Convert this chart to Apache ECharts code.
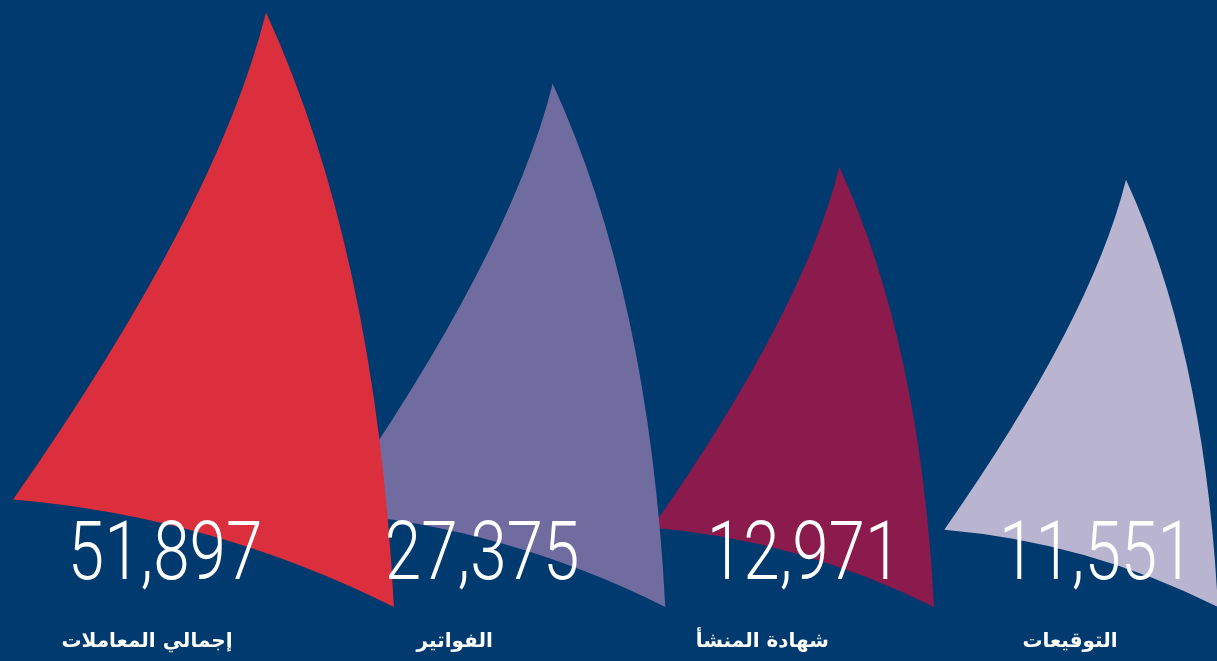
<!DOCTYPE html>
<html><head><meta charset="utf-8">
<script src="https://cdn.jsdelivr.net/npm/echarts@6/dist/echarts.min.js"></script>
<style>html,body{margin:0;padding:0;background:#003a6e}#c{width:1217px;height:661px}</style>
</head><body><div id="c"></div>
<script>
// ---- data ----
const categories = ['إجمالي المعاملات', 'الفواتير', 'شهادة المنشأ', 'التوقيعات'];
const values = [51897, 27375, 12971, 11551];
const sailColors = ['#db2f3d', '#706ca0', '#8b1a4d', '#b9b5d1'];
const seaLevel = 250;     // log-axis floor (base of sails)
const skyTop = 58000;     // log-axis ceiling

// ---- layout / style ----
const LEFT_CORNER = [-0.4254, 0.8191];
const numberOffset = 152;   // px right of the sail's left corner
const numberBaseline = 581;
const numberScaleX = 0.8;

function sailPath(tx, ty, H) {
  const p = (nx, ny) => (tx + nx * H).toFixed(2) + ' ' + (ty + ny * H).toFixed(2);
  return 'M ' + p(0, 0) +
    ' Q ' + p(0.184, 0.400) + ' ' + p(0.2152, 1) +
    ' Q ' + p(-0.0893, 0.8477) + ' ' + p(LEFT_CORNER[0], LEFT_CORNER[1]) +
    ' Q ' + p(-0.0822, 0.3287) + ' ' + p(0, 0) + ' Z';
}

const chart = echarts.init(document.getElementById('c'), null, { renderer: 'canvas' });
chart.setOption({
  animation: false,
  backgroundColor: '#003a6e',
  grid: [
    { left: 266, right: 91, top: 0, bottom: 54 },
    { left: 147, right: 147, top: 0, bottom: 79 }
  ],
  xAxis: [
    { type: 'category', data: categories, boundaryGap: false, gridIndex: 0, show: false },
    { type: 'category', data: categories, boundaryGap: false, gridIndex: 1,
      axisLine: { show: false }, axisTick: { show: false }, splitLine: { show: false },
      axisLabel: { interval: 0, color: '#ffffff', fontSize: 20, fontWeight: 'bold',
        fontFamily: 'DejaVu Sans', margin: 50 } }
  ],
  yAxis: [
    { type: 'log', logBase: 10, min: seaLevel, max: skyTop, gridIndex: 0, show: false },
    { type: 'value', gridIndex: 1, show: false }
  ],
  series: [
    {
      type: 'custom', xAxisIndex: 0, yAxisIndex: 0, z: 2,
      data: values.map((v, i) => [i, v]),
      renderItem: function (params, api) {
        const i = api.value(0);
        const tip = api.coord([i, api.value(1)]);
        const base = api.coord([i, seaLevel]);
        const H = base[1] - tip[1];
        const leftX = tip[0] + LEFT_CORNER[0] * H;
        return {
          type: 'group',
          children: [
            {
              type: 'path',
              z2: 10 - params.dataIndex,
              shape: { pathData: sailPath(tip[0], tip[1], H) },
              style: { fill: sailColors[params.dataIndex] }
            },
            {
              type: 'text',
              z2: 50,
              x: leftX + numberOffset, y: numberBaseline - 23,
              scaleX: numberScaleX,
              style: {
                text: values[params.dataIndex].toLocaleString('en-US'),
                x: 0, y: 0,
                fill: '#ffffff',
                fontFamily: 'Roboto',
                fontWeight: 300,
                fontSize: 82,
                align: 'center',
                verticalAlign: 'middle'
              }
            }
          ]
        };
      }
    }
  ]
});
</script></body></html>
